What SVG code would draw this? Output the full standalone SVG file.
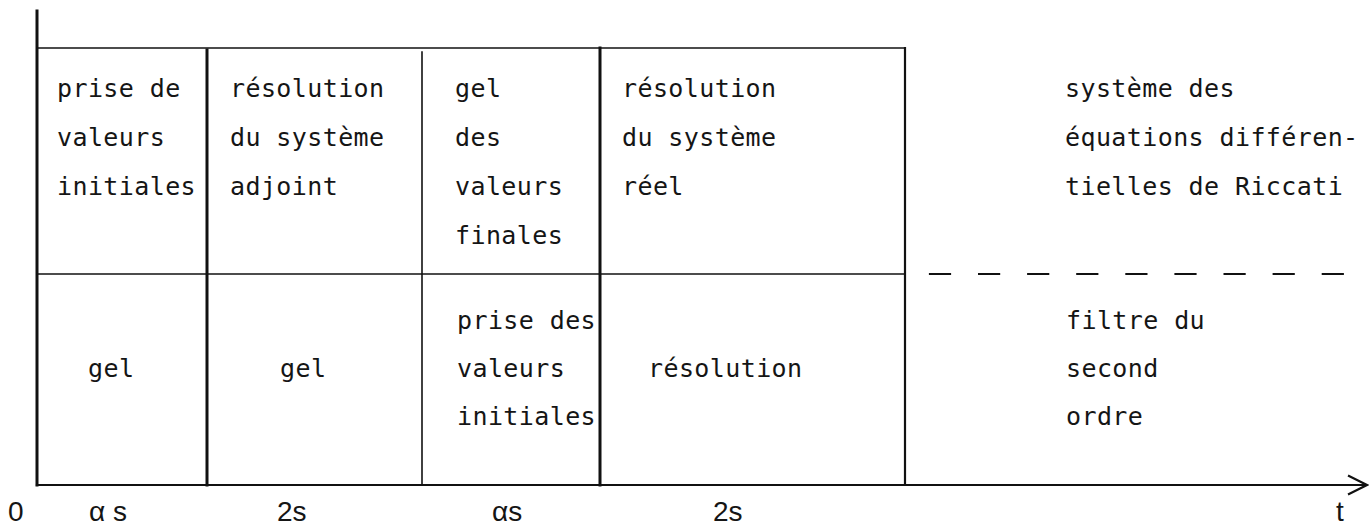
<svg xmlns="http://www.w3.org/2000/svg" width="1369" height="529" viewBox="0 0 1369 529">
  <style>
    .t { font-family: "DejaVu Sans Mono", "Liberation Mono", monospace; font-size: 25px; letter-spacing: 0.4px; fill: #151515; }
    .lab { font-family: "Liberation Sans", "DejaVu Sans", sans-serif; font-size: 28px; fill: #151515; }
    .ln { stroke: #111; fill: none; stroke-linecap: square; }
    .thin { stroke-width: 1.6; }
    .mid { stroke-width: 2.2; }
    .thick { stroke-width: 3; }
  </style>

  <!-- grid and time axis -->
  <g id="connectors">
    <line class="ln thick" x1="37" y1="11" x2="37" y2="485"/>
    <line class="ln thin" x1="37" y1="48" x2="905" y2="48"/>
    <line class="ln thin" x1="37" y1="274" x2="905" y2="274"/>
    <line class="ln thick" x1="207" y1="50" x2="207" y2="485"/>
    <line class="ln thin" x1="422" y1="52" x2="422" y2="485" stroke="#333"/>
    <line class="ln thick" x1="600" y1="48" x2="600" y2="485"/>
    <line class="ln mid" x1="905" y1="48" x2="905" y2="485"/>
    <line class="ln mid" x1="37" y1="485" x2="1366" y2="485"/>
    <polyline class="ln mid" points="1349,476 1367,485 1349,494" stroke-linecap="round" stroke-linejoin="miter"/>
    <line class="ln" x1="930" y1="274" x2="1343" y2="274" stroke-width="2.2" stroke-dasharray="20 29.1" stroke-linecap="butt"/>
  </g>

  <!-- phase 1: initial values -->
  <g id="phase1">
    <text class="t" x="57" y="97">prise de</text>
    <text class="t" x="57" y="146">valeurs</text>
    <text class="t" x="57" y="195">initiales</text>
    <text class="t" x="88" y="377">gel</text>
  </g>

  <!-- phase 2: adjoint system -->
  <g id="phase2">
    <text class="t" x="230" y="97">résolution</text>
    <text class="t" x="230" y="146">du système</text>
    <text class="t" x="230" y="195">adjoint</text>
    <text class="t" x="280" y="377">gel</text>
  </g>

  <!-- phase 3: final values -->
  <g id="phase3">
    <text class="t" x="455" y="97">gel</text>
    <text class="t" x="455" y="146">des</text>
    <text class="t" x="455" y="195">valeurs</text>
    <text class="t" x="455" y="244">finales</text>
    <text class="t" x="457" y="329">prise des</text>
    <text class="t" x="457" y="377">valeurs</text>
    <text class="t" x="457" y="425">initiales</text>
  </g>

  <!-- phase 4: real system -->
  <g id="phase4">
    <text class="t" x="622" y="97">résolution</text>
    <text class="t" x="622" y="146">du système</text>
    <text class="t" x="622" y="195">réel</text>
    <text class="t" x="648" y="377">résolution</text>
  </g>

  <!-- legend of the two rows -->
  <g id="legend">
    <text class="t" x="1065" y="97">système des</text>
    <text class="t" x="1065" y="146">équations différen-</text>
    <text class="t" x="1065" y="195">tielles de Riccati</text>
    <text class="t" x="1066" y="329">filtre du</text>
    <text class="t" x="1066" y="377">second</text>
    <text class="t" x="1066" y="425">ordre</text>
  </g>

  <!-- durations along the time axis -->
  <g id="axis-labels">
    <text class="lab" x="8" y="521">0</text>
    <text class="lab" x="89" y="521">α s</text>
    <text class="lab" x="277" y="521">2s</text>
    <text class="lab" x="492" y="521">αs</text>
    <text class="lab" x="713" y="521">2s</text>
    <text class="lab" x="1336" y="521">t</text>
  </g>
</svg>
